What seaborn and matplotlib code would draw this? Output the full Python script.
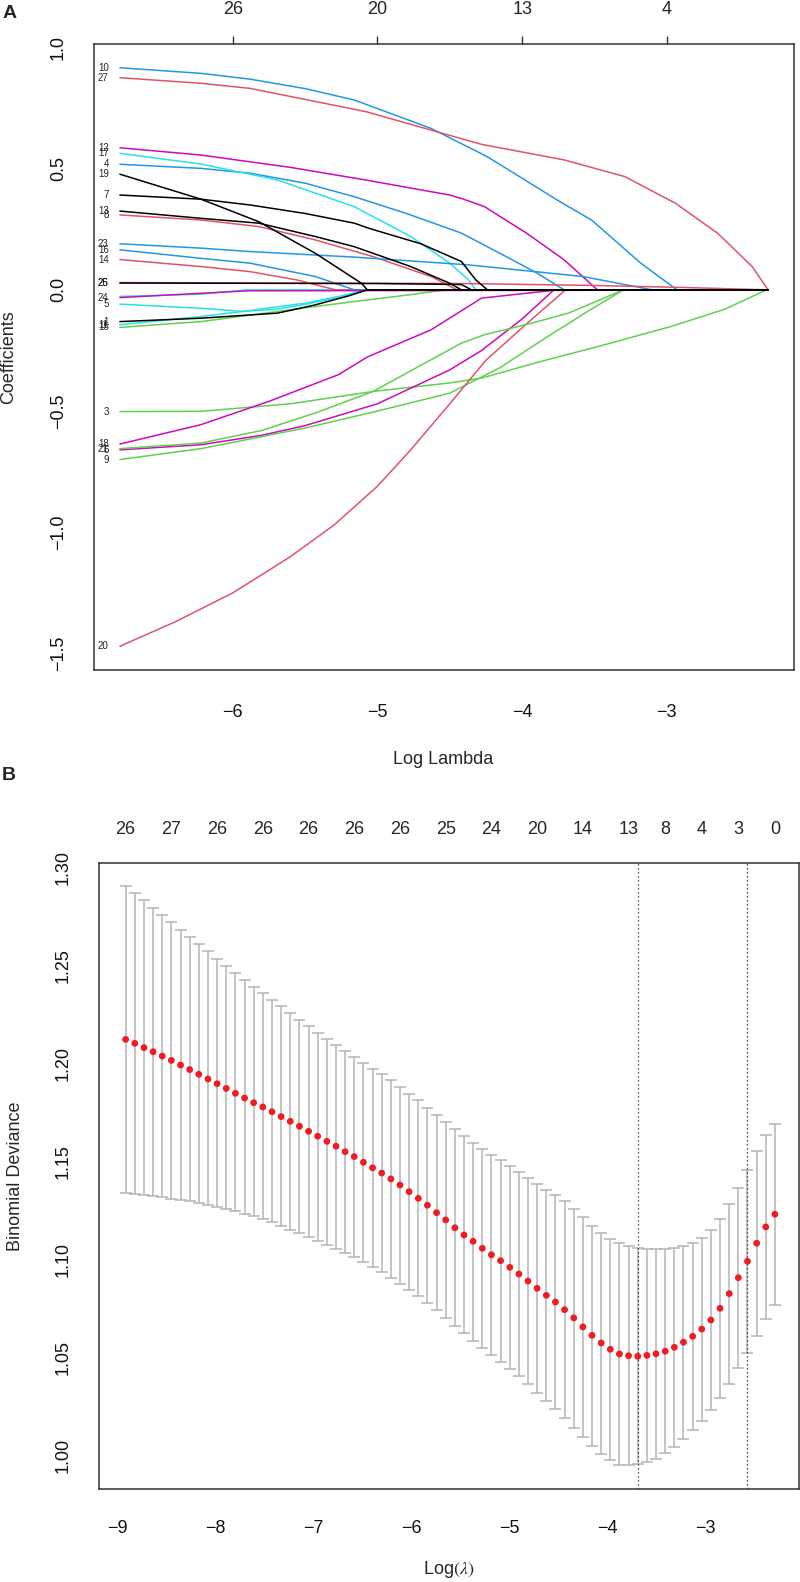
import matplotlib
matplotlib.use("Agg")
import numpy as np
import pandas as pd
import seaborn as sns
import matplotlib.pyplot as plt

# ---- Panel A : coefficient paths (log lambda, coefficient) ----
v1 = [(-6.78, -0.131), (-6.22, -0.117), (-5.69, -0.096), (-5.43, -0.062), (-5.20, -0.025), (-5.07, 0.0), (-2.30, 0.0)]
v2 = [(-6.78, -0.027), (-6.22, -0.018), (-5.90, 0.0), (-2.30, 0.0)]
v3 = [(-6.78, -0.502), (-6.22, -0.501), (-5.60, -0.470), (-5.03, -0.419), (-4.50, -0.384), (-4.28, -0.364), (-3.90, -0.300), (-3.47, -0.233), (-2.97, -0.151), (-2.60, -0.080), (-2.31, 0.0)]
v4 = [(-6.78, 0.518), (-6.22, 0.501), (-5.88, 0.481), (-5.50, 0.440), (-5.16, 0.384), (-4.80, 0.315), (-4.42, 0.234), (-4.11, 0.137), (-3.90, 0.070), (-3.71, 0.0), (-2.30, 0.0)]
v5 = [(-6.78, -0.059), (-6.22, -0.076), (-5.93, -0.089), (-5.70, -0.080), (-5.50, -0.060), (-5.25, -0.030), (-5.08, 0.0), (-2.30, 0.0)]
v6 = [(-6.78, -0.660), (-6.22, -0.639), (-5.80, -0.600), (-5.50, -0.560), (-5.00, -0.470), (-4.50, -0.330), (-4.28, -0.250), (-4.00, -0.120), (-3.78, 0.0), (-2.30, 0.0)]
v7 = [(-6.78, 0.391), (-6.22, 0.374), (-5.88, 0.350), (-5.50, 0.315), (-5.16, 0.275), (-5.06, 0.254), (-4.70, 0.190), (-4.42, 0.117), (-4.32, 0.041), (-4.24, 0.0), (-2.30, 0.0)]
v8 = [(-6.78, 0.309), (-6.22, 0.288), (-5.82, 0.261), (-5.43, 0.206), (-5.03, 0.137), (-4.63, 0.055), (-4.45, 0.0), (-2.30, 0.0)]
v9 = [(-6.78, -0.700), (-6.22, -0.655), (-5.50, -0.570), (-5.00, -0.500), (-4.50, -0.426), (-4.15, -0.320), (-3.84, -0.199), (-3.55, -0.090), (-3.30, 0.0), (-2.30, 0.0)]
v10 = [(-6.78, 0.916), (-6.22, 0.893), (-5.88, 0.869), (-5.50, 0.830), (-5.16, 0.783), (-4.63, 0.666), (-4.24, 0.549), (-3.74, 0.364), (-3.52, 0.288), (-3.18, 0.110), (-2.93, 0.0), (-2.30, 0.0)]
v11 = [(-6.78, -0.144), (-6.22, -0.110), (-5.93, -0.089), (-5.50, -0.055), (-5.25, -0.025), (-5.08, 0.0), (-2.30, 0.0)]
v12 = [(-6.78, 0.586), (-6.22, 0.556), (-5.60, 0.505), (-5.08, 0.453), (-4.50, 0.391), (-4.41, 0.375), (-4.26, 0.343), (-3.97, 0.234), (-3.71, 0.124), (-3.48, 0.0), (-2.30, 0.0)]
v13 = [(-6.78, 0.325), (-6.22, 0.295), (-5.82, 0.275), (-5.43, 0.220), (-5.16, 0.178), (-4.77, 0.096), (-4.50, 0.027), (-4.42, 0.0), (-2.30, 0.0)]
v14 = [(-6.78, 0.125), (-6.22, 0.096), (-5.88, 0.075), (-5.55, 0.040), (-5.29, 0.0), (-2.30, 0.0)]
v15 = [(-6.78, -0.155), (-6.22, -0.131), (-5.70, -0.090), (-5.16, -0.048), (-4.80, -0.022), (-4.53, 0.0), (-2.30, 0.0)]
v16 = [(-6.78, 0.165), (-6.22, 0.130), (-5.88, 0.110), (-5.43, 0.055), (-5.16, 0.0), (-2.30, 0.0)]
v17 = [(-6.78, 0.563), (-6.22, 0.519), (-5.69, 0.453), (-5.16, 0.343), (-4.77, 0.220), (-4.50, 0.110), (-4.37, 0.041), (-4.32, 0.0), (-2.30, 0.0)]
v18 = [(-6.78, -0.636), (-6.22, -0.556), (-5.75, -0.460), (-5.27, -0.350), (-5.07, -0.277), (-4.63, -0.165), (-4.28, -0.034), (-3.75, 0.0), (-2.30, 0.0)]
v19 = [(-6.78, 0.477), (-6.22, 0.374), (-5.82, 0.281), (-5.43, 0.151), (-5.11, 0.027), (-5.07, 0.0), (-2.30, 0.0)]
v20 = [(-6.78, -1.470), (-6.40, -1.370), (-6.00, -1.250), (-5.60, -1.100), (-5.30, -0.970), (-5.00, -0.810), (-4.77, -0.660), (-4.50, -0.470), (-4.25, -0.290), (-3.95, -0.130), (-3.70, 0.0), (-2.30, 0.0)]
v21 = [(-6.78, -0.655), (-6.22, -0.632), (-5.80, -0.580), (-5.43, -0.508), (-5.03, -0.419), (-4.42, -0.220), (-4.26, -0.185), (-3.95, -0.140), (-3.68, -0.096), (-3.30, 0.0), (-2.30, 0.0)]
v23 = [(-6.78, 0.190), (-6.22, 0.172), (-5.88, 0.158), (-5.16, 0.135), (-4.37, 0.103), (-3.58, 0.055), (-3.10, 0.0), (-2.30, 0.0)]
v24 = [(-6.78, -0.032), (-5.90, -0.004), (-3.75, -0.002), (-2.30, 0.0)]
v25 = [(-6.78, 0.028), (-5.00, 0.026), (-4.42, 0.022), (-4.35, 0.0), (-2.30, 0.0)]
v26 = [(-6.78, 0.030), (-4.40, 0.026), (-3.50, 0.018), (-2.90, 0.010), (-2.30, 0.0)]
v27 = [(-6.78, 0.875), (-6.22, 0.852), (-5.88, 0.831), (-5.08, 0.735), (-4.63, 0.659), (-4.28, 0.600), (-3.71, 0.536), (-3.29, 0.467), (-2.94, 0.357), (-2.65, 0.234), (-2.41, 0.096), (-2.30, 0.0)]

paths = [v1, v2, v3, v4, v5, v6, v7, v8, v9, v10, v11, v12, v13, v14, v15, v16, v17, v18, v19, v20, v21, v23, v24, v25, v26, v27]
path_labels = ["1", "", "3", "4", "5", "6", "7", "8", "9", "10", "11", "12", "13", "14", "15", "16", "17", "18", "19", "20", "21", "23", "24", "25", "26", "27"]
path_colors = ["k", "c", "g", "b", "c", "m", "k", "r", "g", "b", "c", "m", "k", "r", "g", "b", "c", "m", "k", "r", "g", "b", "m", "k", "r", "r"]

top_a_at = [-6, -5, -4, -3]
top_a_df = ["26", "20", "13", "4"]

# ---- Panel B : cross-validation curve ----
log_lambda = [-8.918, -8.825, -8.731, -8.638, -8.545, -8.452, -8.358, -8.265, -8.172, -8.078,
              -7.985, -7.892, -7.798, -7.705, -7.612, -7.519, -7.425, -7.332, -7.239, -7.145,
              -7.052, -6.959, -6.865, -6.772, -6.679, -6.586, -6.492, -6.399, -6.306, -6.212,
              -6.119, -6.026, -5.932, -5.839, -5.746, -5.653, -5.559, -5.466, -5.373, -5.279,
              -5.186, -5.093, -4.999, -4.906, -4.813, -4.720, -4.626, -4.533, -4.440, -4.346,
              -4.253, -4.160, -4.066, -3.973, -3.880, -3.787, -3.693, -3.600, -3.507, -3.413,
              -3.320, -3.227, -3.133, -3.040, -2.947, -2.854, -2.760, -2.667, -2.574, -2.480,
              -2.387, -2.294]
cv_mean = [1.2124, 1.2104, 1.2082, 1.2061, 1.2039, 1.2017, 1.1993, 1.1970, 1.1946, 1.1922,
           1.1898, 1.1874, 1.1849, 1.1825, 1.1801, 1.1779, 1.1755, 1.1730, 1.1706, 1.1681,
           1.1655, 1.1630, 1.1604, 1.1579, 1.1551, 1.1526, 1.1497, 1.1469, 1.1442, 1.1412,
           1.1381, 1.1347, 1.1313, 1.1278, 1.1240, 1.1203, 1.1163, 1.1126, 1.1094, 1.1058,
           1.1025, 1.0995, 1.0961, 1.0927, 1.0891, 1.0854, 1.0818, 1.0784, 1.0745, 1.0703,
           1.0657, 1.0614, 1.0575, 1.0543, 1.0519, 1.0510, 1.0507, 1.0512, 1.0520, 1.0533,
           1.0553, 1.0579, 1.0609, 1.0646, 1.0692, 1.0752, 1.0827, 1.0908, 1.0992, 1.1084,
           1.1167, 1.1232]
cv_upper = [1.2907, 1.2871, 1.2834, 1.2796, 1.2760, 1.2723, 1.2684, 1.2645, 1.2609, 1.2573,
            1.2536, 1.2500, 1.2463, 1.2427, 1.2393, 1.2361, 1.2327, 1.2293, 1.2257, 1.2224,
            1.2192, 1.2158, 1.2126, 1.2095, 1.2063, 1.2034, 1.2005, 1.1974, 1.1946, 1.1915,
            1.1883, 1.1847, 1.1813, 1.1776, 1.1738, 1.1701, 1.1665, 1.1630, 1.1597, 1.1566,
            1.1536, 1.1510, 1.1478, 1.1446, 1.1415, 1.1385, 1.1357, 1.1330, 1.1298, 1.1257,
            1.1216, 1.1173, 1.1138, 1.1107, 1.1084, 1.1071, 1.1061, 1.1055, 1.1053, 1.1055,
            1.1061, 1.1070, 1.1084, 1.1112, 1.1151, 1.1208, 1.1283, 1.1367, 1.1458, 1.1555,
            1.1636, 1.1691]
cv_lower = [1.1339, 1.1334, 1.1329, 1.1323, 1.1318, 1.1311, 1.1305, 1.1298, 1.1289, 1.1281,
            1.1270, 1.1260, 1.1248, 1.1235, 1.1224, 1.1209, 1.1192, 1.1172, 1.1152, 1.1135,
            1.1116, 1.1097, 1.1077, 1.1056, 1.1036, 1.1012, 1.0988, 1.0963, 1.0936, 1.0908,
            1.0878, 1.0845, 1.0813, 1.0778, 1.0742, 1.0703, 1.0663, 1.0625, 1.0587, 1.0549,
            1.0514, 1.0480, 1.0444, 1.0407, 1.0366, 1.0321, 1.0278, 1.0237, 1.0191, 1.0143,
            1.0095, 1.0051, 1.0010, 0.9977, 0.9954, 0.9951, 0.9958, 0.9968, 0.9985, 1.0012,
            1.0046, 1.0085, 1.0130, 1.0177, 1.0232, 1.0296, 1.0367, 1.0446, 1.0526, 1.0612,
            1.0697, 1.0770]
nz_idx = [0, 5, 10, 15, 20, 25, 30, 35, 40, 45, 50, 55, 59, 63, 67, 71]
nz_count = [26, 27, 26, 26, 26, 26, 26, 25, 24, 20, 14, 13, 8, 4, 3, 0]
idx_min = 56
idx_1se = 68

# R default palette
rcol = {"k": "#000000", "r": "#DF536B", "g": "#61D04F", "b": "#2297E6", "c": "#28E2E5", "m": "#CD0BBC"}

sns.set_theme(style="white")
plt.rcParams["font.family"] = ["Liberation Sans", "DejaVu Sans"]
plt.rcParams["mathtext.fontset"] = "stix"

W, H = 800, 1582
fig = plt.figure(figsize=(W / 100, H / 100), dpi=100)


def px_axes(l, t, r, b):
    return fig.add_axes([l / W, 1 - b / H, (r - l) / W, (b - t) / H])


def style_box(ax, xpad):
    for s in ax.spines.values():
        s.set_visible(True)
        s.set_color("#333333")
        s.set_linewidth(1.1)
    ax.tick_params(axis="both", direction="out", length=8.5, width=1.0, color="#333333",
                   labelsize=13, labelcolor="#111111")
    ax.tick_params(axis="x", pad=xpad)
    ax.tick_params(axis="y", pad=11, labelrotation=90)
    for lab in ax.get_yticklabels():
        lab.set_va("center")


def minus(s):
    return s.replace("-", "\u2212")


# ---------------- Panel A ----------------
axA = px_axes(94, 44, 794, 670)
order = sorted(range(len(paths)), key=lambda i: path_colors[i] == "k")
for i in order:
    d = pd.DataFrame(paths[i], columns=["loglam", "coef"])
    sns.lineplot(data=d, x="loglam", y="coef", color=rcol[path_colors[i]], linewidth=1.1,
                 estimator=None, sort=False, ax=axA)
for i, p in enumerate(paths):
    if path_labels[i]:
        axA.annotate(path_labels[i], xy=p[0], xytext=(-8, 0), textcoords="offset points",
                     ha="right", va="center", fontsize=7, color="#222222")

axA.set_xlim(-6.959, -2.121)
axA.set_ylim(-1.568, 1.014)
ya = [-1.5, -1.0, -0.5, 0.0, 0.5, 1.0]
axA.set_xticks([-6, -5, -4, -3])
axA.set_yticks(ya)
axA.set_yticklabels([minus(f"{v:.1f}") for v in ya])
axA.set_xlabel("")
axA.set_ylabel("")
style_box(axA, xpad=16)

topA = axA.secondary_xaxis("top")
topA.set_xticks(top_a_at)
topA.set_xticklabels(top_a_df)
topA.tick_params(direction="out", length=6, width=1.0, color="#333333", labelsize=13, pad=12.5)
topA.spines["top"].set_visible(False)

fig.text(443 / W, 1 - 759 / H, "Log Lambda", ha="center", va="center", fontsize=13)
fig.text(9 / W, 1 - 357 / H, "Coefficients", ha="center", va="center", rotation=90, fontsize=13)
fig.text(3 / W, 1 - 14 / H, "A", ha="left", va="center", fontsize=14, fontweight="bold")

# ---------------- Panel B ----------------
axB = px_axes(99, 863, 799, 1489)
lam = np.array(log_lambda)
mean = np.array(cv_mean)
axB.errorbar(lam, mean, yerr=[mean - np.array(cv_lower), np.array(cv_upper) - mean], fmt="none",
             ecolor="#B4B4B4", elinewidth=1.1, capsize=4.6, capthick=1.1, zorder=1)
sns.scatterplot(x=lam, y=mean, color="#EE1D23", s=24, edgecolor="none", zorder=3, ax=axB)
axB.axvline(lam[idx_min], color="#222222", linestyle=(0, (1, 2.2)), linewidth=0.9, zorder=2)
axB.axvline(lam[idx_1se], color="#222222", linestyle=(0, (1, 2.2)), linewidth=0.9, zorder=2)

axB.set_xlim(-9.19, -2.048)
axB.set_ylim(0.9830, 1.3024)
axB.set_xticks([-9, -8, -7, -6, -5, -4, -3])
yb = [1.00, 1.05, 1.10, 1.15, 1.20, 1.25, 1.30]
axB.set_yticks(yb)
axB.set_yticklabels([f"{v:.2f}" for v in yb])
axB.set_xlabel("")
axB.set_ylabel("")
style_box(axB, xpad=14)

topB = axB.secondary_xaxis("top")
topB.set_xticks(lam[nz_idx])
topB.set_xticklabels([str(n) for n in nz_count])
topB.tick_params(length=0, labelsize=13, pad=18)
topB.spines["top"].set_visible(False)

fig.text(449 / W, 1 - 1570 / H, r"Log$\left(\lambda\right)$", ha="center", va="center", fontsize=13)
fig.text(16 / W, 1 - 1176 / H, "Binomial Deviance", ha="center", va="center", rotation=90, fontsize=13)
fig.text(2 / W, 1 - 776 / H, "B", ha="left", va="center", fontsize=14, fontweight="bold")

fig.savefig("out.png", dpi=100)
